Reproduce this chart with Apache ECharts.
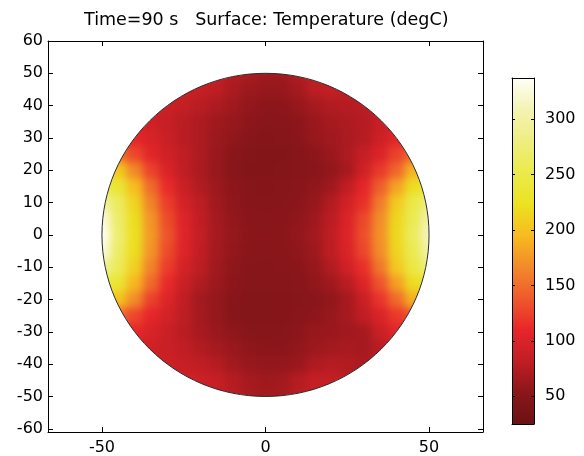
<!DOCTYPE html>
<html><head><meta charset="utf-8">
<script src="https://cdn.jsdelivr.net/npm/echarts@6/dist/echarts.min.js"></script>
<style>
html,body{margin:0;padding:0;background:#fff;}
#wrap{position:relative;width:584px;height:456px;overflow:hidden;}
#field,#chart{position:absolute;left:0;top:0;width:584px;height:456px;}
#field{filter:blur(4px);}
</style></head><body>
<div id="wrap"><div id="field"></div><div id="chart"></div></div>
<script>
const titleText = 'Time=90 s   Surface: Temperature (degC)';
const xTicks = [-50, 0, 50];
const yTicks = [-60, -50, -40, -30, -20, -10, 0, 10, 20, 30, 40, 50, 60];
const cbTicks = [50, 100, 150, 200, 250, 300];
const xMin = -66.5, xMax = 66.5, yMin = -61, yMax = 60;
const cbMin = 25, cbMax = 337;
const circleR = 50;
const cmap = ['#6a1214','#8a161a','#c01e24','#e8262a','#ee5a2c','#f28a2a','#f7bc1f','#ebe221','#ebea4c','#eeee80','#f3f3b4','#fffff6'];

// grid of temperatures (degC), cell centres every 5 units
const xs = [-55,-50,-45,-40,-35,-30,-25,-20,-15,-10,-5,0,5,10,15,20,25,30,35,40,45,50,55];
const ys = [50,45,40,35,30,25,20,15,10,5,0,-5,-10,-15,-20,-25,-30,-35,-40,-45,-50];
const _ = null;
const T_p50 = [_,_,_,_,_,_,88,88,85,76,70,65,65,74,82,85,85,_,_,_,_,_,_];
const T_p45 = [_,_,_,_,90,90,88,85,80,70,63,60,60,67,80,84,82,80,80,_,_,_,_];
const T_p40 = [_,_,_,92,92,88,84,78,72,65,58,55,55,60,68,74,76,78,82,85,_,_,_];
const T_p35 = [_,_,100,98,92,86,78,72,65,60,55,52,52,55,62,68,72,76,85,95,100,_,_];
const T_p30 = [_,_,115,108,98,88,78,72,63,57,51,49,50,53,60,65,70,76,90,105,112,_,_];
const T_p25 = [_,160,150,128,105,92,82,72,62,53,48,47,47,50,55,62,72,85,100,125,145,155,_];
const T_p20 = [_,212,205,165,125,100,82,70,60,52,47,47,48,50,53,57,68,92,120,145,190,205,_];
const T_p15 = [255,250,235,195,148,112,88,74,63,55,50,49,50,52,56,64,82,108,140,180,220,240,240];
const T_p10 = [300,295,262,212,162,122,95,80,65,56,51,50,51,54,60,74,94,115,158,205,248,280,280];
const T_p05 = [330,325,268,220,172,130,102,82,67,58,53,52,53,56,64,79,100,128,168,214,255,300,300];
const T_000 = [338,335,272,222,175,135,104,84,68,59,54,53,54,58,66,80,102,132,170,216,262,312,312];
const T_m05 = [330,325,266,220,172,130,102,82,67,58,53,52,53,56,64,80,100,128,168,214,255,300,300];
const T_m10 = [298,292,258,210,162,122,96,80,65,56,51,51,52,54,60,74,94,115,156,204,246,278,278];
const T_m15 = [255,250,234,192,148,112,88,74,63,55,50,50,50,52,57,65,78,102,135,178,218,235,235];
const T_m20 = [_,212,200,168,125,102,82,66,59,52,48,48,49,51,53,57,68,88,118,148,188,200,_];
const T_m25 = [_,158,148,128,108,95,80,67,59,51,48,48,49,52,55,60,68,82,100,120,135,145,_];
const T_m30 = [_,_,118,110,98,88,78,69,62,56,51,50,51,55,60,62,65,68,88,105,112,_,_];
const T_m35 = [_,_,100,96,92,88,82,74,67,61,56,54,54,57,63,66,69,68,78,92,98,_,_];
const T_m40 = [_,_,_,92,92,90,86,82,76,66,60,58,58,62,72,76,74,70,72,76,_,_,_];
const T_m45 = [_,_,_,_,90,90,90,90,86,76,68,64,66,76,85,84,80,76,74,_,_,_,_];
const T_m50 = [_,_,_,_,_,_,90,90,86,78,70,66,68,78,84,84,80,_,_,_,_,_,_];
const rows = [T_p50,T_p45,T_p40,T_p35,T_p30,T_p25,T_p20,T_p15,T_p10,T_p05,T_000,T_m05,T_m10,T_m15,T_m20,T_m25,T_m30,T_m35,T_m40,T_m45,T_m50];

const cells = [];
rows.forEach((r, i) => r.forEach((v, j) => { if (v != null) cells.push([xs[j], ys[i], v]); }));
const step = xs[1] - xs[0];

const gridMain = {left: 48, right: 101, top: 41, bottom: 24};

// ---- field layer (smoothed) ----
const field = echarts.init(document.getElementById('field'));
field.setOption({
  animation: false,
  grid: gridMain,
  xAxis: {type: 'value', min: xMin, max: xMax, show: false},
  yAxis: {type: 'value', min: yMin, max: yMax, show: false},
  visualMap: {type: 'continuous', show: false, min: cbMin, max: cbMax, dimension: 2, seriesIndex: 0, inRange: {color: cmap}},
  series: [{
    type: 'custom', coordinateSystem: 'cartesian2d', data: cells, encode: {x: 0, y: 1},
    renderItem: (params, api) => {
      const p = api.coord([api.value(0) - step / 2, api.value(1) + step / 2]);
      const s = api.size([step, step]);
      return {type: 'rect', shape: {x: p[0], y: p[1], width: s[0] + 1, height: s[1] + 1}, style: {fill: api.visual('color')}};
    }
  }]
});

// ---- axes, mask, colorbar ----
const axisBase = (extra) => Object.assign({
  type: 'value', z: 10, splitLine: {show: false},
  axisLine: {show: true, onZero: false, lineStyle: {color: '#000', width: 1}}
}, extra);
const lbl = {fontSize: 16, color: '#000', fontFamily: 'DejaVu Sans'};

const stops = cmap.map((c, i) => ({offset: i / (cmap.length - 1), color: c}));

const chart = echarts.init(document.getElementById('chart'));
chart.setOption({
  animation: false,
  title: {text: titleText, left: 79, top: 6, textStyle: {fontSize: 17.5, fontWeight: 'normal', color: '#000', fontFamily: 'DejaVu Sans'}},
  grid: [gridMain, {left: 512, top: 78, width: 22, height: 346}],
  xAxis: [
    axisBase({gridIndex: 0, min: xMin, max: xMax, position: 'bottom',
      axisTick: {inside: true, length: 5, customValues: xTicks, lineStyle: {color: '#000'}},
      axisLabel: Object.assign({customValues: xTicks, margin: 8}, lbl)}),
    axisBase({gridIndex: 0, min: xMin, max: xMax, position: 'top',
      axisTick: {inside: true, length: 5, customValues: xTicks, lineStyle: {color: '#000'}},
      axisLabel: {show: false}}),
    axisBase({gridIndex: 1, min: 0, max: 1, position: 'bottom', axisTick: {show: false}, axisLabel: {show: false}}),
    axisBase({gridIndex: 1, min: 0, max: 1, position: 'top', axisTick: {show: false}, axisLabel: {show: false}})
  ],
  yAxis: [
    axisBase({gridIndex: 0, min: yMin, max: yMax, position: 'left',
      axisTick: {inside: true, length: 5, customValues: yTicks, lineStyle: {color: '#000'}},
      axisLabel: Object.assign({customValues: yTicks, margin: 5}, lbl)}),
    axisBase({gridIndex: 0, min: yMin, max: yMax, position: 'right',
      axisTick: {inside: true, length: 5, customValues: yTicks, lineStyle: {color: '#000'}},
      axisLabel: {show: false}}),
    axisBase({gridIndex: 1, min: cbMin, max: cbMax, position: 'left',
      axisTick: {inside: true, length: 3, customValues: cbTicks, lineStyle: {color: '#000'}},
      axisLabel: {show: false}}),
    axisBase({gridIndex: 1, min: cbMin, max: cbMax, position: 'right',
      axisTick: {inside: true, length: 3, customValues: cbTicks, lineStyle: {color: '#000'}},
      axisLabel: Object.assign({customValues: cbTicks, margin: 11}, lbl)})
  ],
  series: [
    {
      type: 'custom', xAxisIndex: 0, yAxisIndex: 0, clip: true, z: 3,
      data: [[0, 0, circleR]], encode: {x: 0, y: 1},
      renderItem: (params, api) => {
        const cs = params.coordSys;
        const c = api.coord([api.value(0), api.value(1)]);
        const R = api.value(2);
        const rx = api.size([R, 0])[0], ry = api.size([0, R])[1];
        const x = cs.x, y = cs.y, w = cs.width, h = cs.height;
        const d = `M${x},${y} L${x + w},${y} L${x + w},${y + h} L${x},${y + h} Z ` +
          `M${c[0] + rx},${c[1]} A${rx},${ry} 0 1 0 ${c[0] - rx},${c[1]} A${rx},${ry} 0 1 0 ${c[0] + rx},${c[1]} Z`;
        return {type: 'group', children: [
          {type: 'path', shape: {pathData: d}, style: {fill: '#fff', stroke: null}},
          {type: 'ellipse', shape: {cx: c[0], cy: c[1], rx: rx, ry: ry}, style: {fill: 'none', stroke: '#2a2a2a', lineWidth: 1}}
        ]};
      }
    },
    {
      type: 'custom', xAxisIndex: 2, yAxisIndex: 2, z: 2,
      data: [[0, cbMin, 1, cbMax]], encode: {x: [0, 2], y: [1, 3]},
      renderItem: (params, api) => {
        const a = api.coord([api.value(0), api.value(3)]);
        const b = api.coord([api.value(2), api.value(1)]);
        return {type: 'rect', shape: {x: a[0], y: a[1], width: b[0] - a[0], height: b[1] - a[1]},
          style: {fill: new echarts.graphic.LinearGradient(0, 1, 0, 0, stops)}};
      }
    }
  ]
});
</script>
</body></html>
